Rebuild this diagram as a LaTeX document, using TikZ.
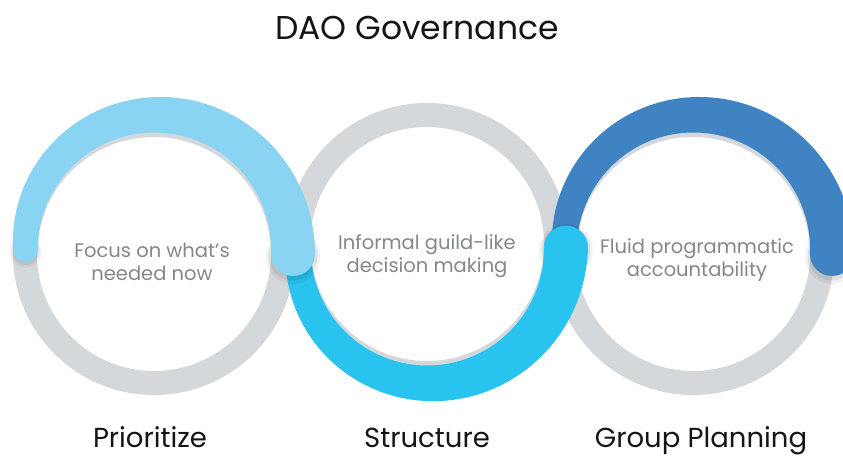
\documentclass[tikz,border=0pt]{standalone}
\usepackage{fontspec}
\setmainfont{Poppins}
\definecolor{ringgray}{HTML}{D5D8DA}
\definecolor{lightblue}{HTML}{89D4F2}
\definecolor{cyanblue}{HTML}{29C3EF}
\definecolor{darkblue}{HTML}{3F83C3}
\definecolor{textgray}{HTML}{83888C}
\definecolor{titleblack}{HTML}{151515}
\newcommand{\taperarc}[5]{%
  % #1 cx, #2 cy, #3 start angle, #4 end angle, #5 colour
  \pgfmathsetmacro{\sx}{#1+128.5*cos(#3)}\pgfmathsetmacro{\sy}{#2+128.5*sin(#3)}%
  \pgfmathsetmacro{\ex}{#1+139*cos(#4)}\pgfmathsetmacro{\ey}{#2+139*sin(#4)}%
  \fill[black,opacity=0.05] (\sx,\sy-2) circle (16);
  \fill[black,opacity=0.06] (\sx,\sy-1.5) circle (14);
  \fill[black,opacity=0.05] (\ex,\ey-3) circle (27);
  \fill[black,opacity=0.07] (\ex,\ey-2) circle (24.5);
  \fill[#5] plot[domain=#3:#4,samples=90,variable=\a]
     ({#1+(141+20*((\a-#3)/(#4-#3))+6*sin(180*((\a-#3)/(#4-#3))))*cos(\a)},
      {#2+(141+20*((\a-#3)/(#4-#3))+6*sin(180*((\a-#3)/(#4-#3))))*sin(\a)})
   -- plot[domain=#4:#3,samples=90,variable=\a]
     ({#1+(116+5*sin(180*((\a-#3)/(#4-#3)))+((\a-#3)/(#4-#3)))*cos(\a)},
      {#2+(116+5*sin(180*((\a-#3)/(#4-#3)))+((\a-#3)/(#4-#3)))*sin(\a)})
   -- cycle;
  \fill[#5] (\sx,\sy) circle (12.5);
  \fill[#5] (\ex,\ey) circle (22);
}
\tikzset{
  ring/.style={draw=ringgray,line width=24pt},
  inner/.style={text=textgray,font=\fontsize{19.5}{23}\selectfont,align=center},
  label/.style={text=titleblack,font=\fontsize{27.5}{32}\selectfont,anchor=base,inner sep=0pt},
}
\begin{document}
\begin{tikzpicture}[x=1pt,y=1pt]
  \useasboundingbox (0,0) rectangle (843,455);
  \fill[white] (0,0) rectangle (843,455);
  % grey rings
  \draw[ring] (154,201) circle (129);
  \draw[ring] (427,211) circle (129);
  \draw[ring] (693,201) circle (129);
  % coloured tapered arcs (back to front)
  \taperarc{693}{201}{178}{0}{darkblue}
  \taperarc{427}{211}{180}{358.5}{cyanblue}
  \taperarc{154}{201}{178}{0}{lightblue}
  % texts
  \node[text=titleblack,font=\fontsize{33}{38}\selectfont] (title) at (417,427) {DAO Governance};
  \node[inner] (t1) at (152,193.5) {Focus on what's\\needed now};
  \node[inner] (t2) at (427,198.5) {Informal guild-like\\decision making};
  \node[inner] (t3) at (697,195) {Fluid programmatic\\accountability};
  \node[label] (l1) at (150,8) {Prioritize};
  \node[label] (l2) at (427,8) {Structure};
  \node[label] (l3) at (701,8) {Group Planning};
\end{tikzpicture}
\end{document}
